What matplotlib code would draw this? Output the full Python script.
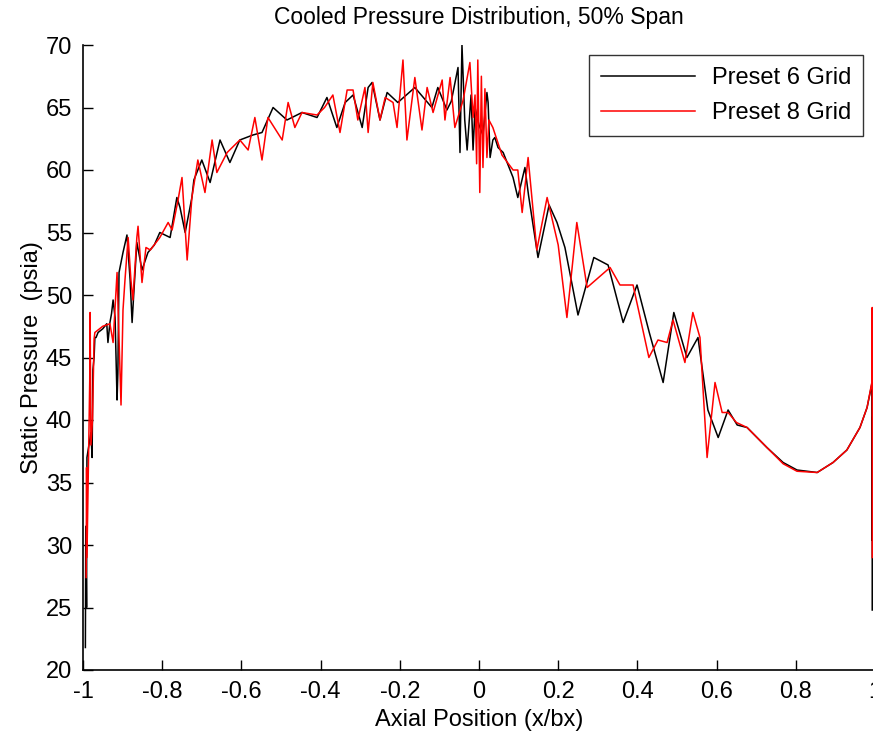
import matplotlib.pyplot as plt

# Preset 6 grid (black)
x_p6 = [-0.994, -0.993, -0.991, -0.990, -0.980, -0.977, -0.976, -0.975, -0.972, -0.970,
        -0.967, -0.962, -0.950, -0.940, -0.937, -0.932, -0.928, -0.924, -0.919, -0.914,
        -0.912, -0.909, -0.899, -0.889, -0.881, -0.876, -0.872, -0.864, -0.851, -0.836,
        -0.820, -0.806, -0.780, -0.763, -0.755, -0.742, -0.725, -0.720, -0.700, -0.679,
        -0.654, -0.629, -0.604, -0.571, -0.548, -0.520, -0.485, -0.447, -0.409, -0.384,
        -0.359, -0.338, -0.318, -0.295, -0.280, -0.270, -0.250, -0.232, -0.205, -0.162,
        -0.119, -0.104, -0.081, -0.070, -0.053, -0.048, -0.043, -0.036, -0.030, -0.020,
        -0.015, -0.010, 0.000, 0.010, 0.020, 0.023, 0.028, 0.035, 0.040, 0.048,
        0.061, 0.086, 0.098, 0.116, 0.125, 0.149, 0.177, 0.197, 0.217, 0.250,
        0.290, 0.326, 0.364, 0.399, 0.430, 0.465, 0.492, 0.525, 0.553, 0.578,
        0.604, 0.629, 0.652, 0.677, 0.727, 0.768, 0.803, 0.854, 0.894, 0.929,
        0.962, 0.980, 0.989, 0.992, 0.992, 0.993, 0.993]
p_p6 = [21.8, 31.5, 25.0, 37.0, 39.0, 37.0, 40.8, 44.0, 45.0, 46.6,
        46.6, 47.0, 47.3, 47.7, 46.2, 47.8, 48.5, 49.6, 48.2, 41.6,
        43.7, 51.8, 53.4, 54.8, 51.2, 47.8, 50.0, 54.2, 52.0, 53.4,
        54.0, 55.0, 54.6, 57.8, 57.0, 55.0, 57.8, 59.2, 60.8, 59.0,
        62.4, 60.6, 62.4, 62.8, 63.0, 65.0, 64.0, 64.6, 64.2, 65.8,
        63.4, 65.4, 66.0, 63.4, 66.6, 67.0, 64.0, 66.2, 65.4, 66.6,
        65.0, 66.6, 64.8, 65.5, 68.2, 61.4, 70.0, 64.0, 61.6, 66.0,
        61.6, 65.0, 63.6, 62.8, 66.2, 65.4, 61.0, 62.4, 62.6, 61.8,
        61.4, 59.4, 57.8, 60.2, 58.0, 53.0, 57.2, 55.8, 53.8, 48.4,
        53.0, 52.4, 47.8, 50.8, 47.0, 43.0, 48.6, 45.0, 46.6, 40.8,
        38.6, 40.8, 39.6, 39.4, 37.8, 36.6, 36.0, 35.8, 36.6, 37.6,
        39.4, 41.0, 42.4, 42.9, 30.4, 40.2, 24.8]

# Preset 8 grid (red)
x_p8 = [-0.992, -0.991, -0.990, -0.985, -0.983, -0.982, -0.980, -0.976, -0.972, -0.970,
        -0.950, -0.932, -0.924, -0.914, -0.904, -0.899, -0.894, -0.886, -0.879, -0.874,
        -0.864, -0.861, -0.851, -0.841, -0.830, -0.806, -0.785, -0.775, -0.760, -0.750,
        -0.737, -0.725, -0.710, -0.692, -0.674, -0.662, -0.636, -0.604, -0.583, -0.566,
        -0.548, -0.533, -0.497, -0.482, -0.465, -0.447, -0.409, -0.390, -0.369, -0.351,
        -0.333, -0.318, -0.306, -0.288, -0.280, -0.268, -0.250, -0.237, -0.217, -0.207,
        -0.192, -0.182, -0.162, -0.144, -0.131, -0.116, -0.093, -0.086, -0.073, -0.061,
        -0.040, -0.023, -0.015, -0.010, -0.006, -0.003, 0.002, 0.006, 0.010, 0.015,
        0.020, 0.025, 0.035, 0.058, 0.086, 0.098, 0.109, 0.124, 0.146, 0.172,
        0.200, 0.222, 0.247, 0.273, 0.331, 0.356, 0.389, 0.429, 0.452, 0.475,
        0.490, 0.520, 0.540, 0.558, 0.576, 0.596, 0.614, 0.629, 0.650, 0.677,
        0.727, 0.768, 0.803, 0.854, 0.894, 0.929, 0.962, 0.980, 0.989, 0.992,
        0.993, 0.993]
p_p8 = [27.4, 36.2, 29.0, 39.0, 43.2, 48.6, 38.0, 40.0, 46.5, 47.0,
        47.5, 47.7, 46.2, 51.8, 41.2, 48.8, 51.2, 54.6, 51.2, 49.6,
        54.6, 55.5, 51.0, 53.8, 53.6, 54.6, 55.8, 55.2, 57.6, 59.4,
        52.8, 57.8, 60.8, 58.2, 62.4, 59.8, 61.4, 62.4, 61.6, 64.2,
        60.8, 64.2, 62.4, 65.4, 63.4, 64.6, 64.4, 65.0, 66.0, 63.0,
        66.4, 66.4, 64.0, 66.6, 63.0, 67.0, 64.0, 65.8, 65.4, 63.4,
        68.8, 62.4, 67.4, 63.2, 66.6, 64.6, 67.2, 64.0, 67.4, 63.4,
        65.6, 68.6, 64.2, 66.0, 60.5, 68.8, 58.2, 67.5, 60.2, 66.5,
        61.0, 64.0, 63.4, 61.2, 60.0, 60.0, 56.6, 61.0, 53.6, 57.8,
        54.0, 48.2, 55.8, 50.6, 52.2, 50.8, 50.8, 45.0, 46.4, 46.2,
        48.0, 44.6, 48.6, 46.6, 37.0, 43.0, 40.6, 40.6, 39.8, 39.4,
        37.8, 36.5, 35.9, 35.8, 36.6, 37.6, 39.4, 41.0, 42.5, 43.0,
        49.0, 29.0]

x_ticks = [-1, -0.8, -0.6, -0.4, -0.2, 0, 0.2, 0.4, 0.6, 0.8, 1]
y_ticks = [20, 25, 30, 35, 40, 45, 50, 55, 60, 65, 70]

plt.rcParams['font.family'] = ['Liberation Sans', 'DejaVu Sans']

fig = plt.figure(figsize=(8.73, 7.36), dpi=100)
ax = fig.add_axes([83 / 873, 66 / 736, 792 / 873, 625 / 736])

ax.plot(x_p6, p_p6, color='black', lw=1.1, label='Preset 6 Grid')
ax.plot(x_p8, p_p8, color='red', lw=1.1, label='Preset 8 Grid')

ax.set_xlim(-1, 1)
ax.set_ylim(20, 70)
ax.set_xticks(x_ticks)
ax.set_xticklabels([f'{t:g}' for t in x_ticks])
ax.set_yticks(y_ticks)
ax.tick_params(direction='in', length=7, width=1, labelsize=17,
               top=False, right=False)
ax.tick_params(axis='x', pad=8)
ax.tick_params(axis='y', pad=8)
for s in ['top', 'right']:
    ax.spines[s].set_visible(False)
for s in ['left', 'bottom']:
    ax.spines[s].set_linewidth(1.2)

ax.set_title('Cooled Pressure Distribution, 50% Span', fontsize=16.5, pad=15)
ax.set_xlabel('Axial Position (x/bx)', fontsize=17, labelpad=4)
ax.set_ylabel('Static Pressure  (psia)', fontsize=17, labelpad=2)

leg = ax.legend(loc='upper right', bbox_to_anchor=(0.985, 0.984), borderaxespad=0,
                fontsize=17, frameon=True, fancybox=False, edgecolor='black',
                handlelength=4.0, handletextpad=0.7, borderpad=0.5, labelspacing=0.55)
leg.get_frame().set_linewidth(1.0)

fig.savefig('out.png', dpi=100)
